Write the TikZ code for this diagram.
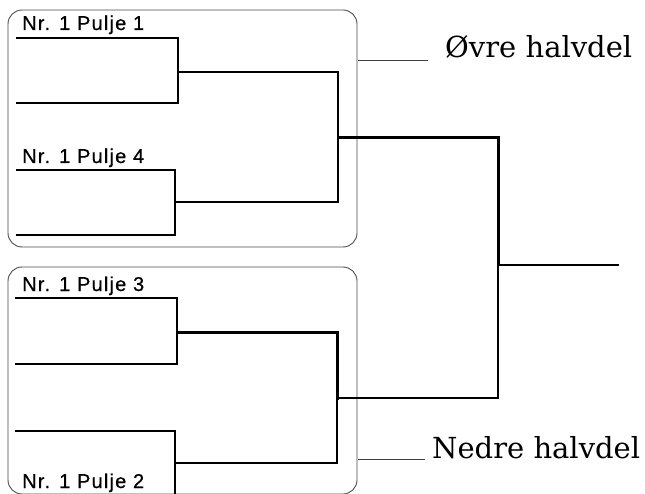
\documentclass[tikz,border=0pt]{standalone}
\usepackage{fontspec}
\newfontfamily\labfont{Liberation Sans}[LetterSpace=6,FakeBold=0.6]
\newfontfamily\halffont{DejaVu Serif}
\begin{document}
\begin{tikzpicture}[x=1pt,y=-1pt,
  bline/.style={line width=1.8pt, line cap=rect},
  tline/.style={line width=3pt, line cap=rect},
  frame/.style={draw=black!70, line width=0.9pt, rounded corners=14pt, inner sep=0pt},
  leader/.style={draw=black!75, line width=0.9pt},
  seed/.style={anchor=base west, inner sep=0pt, font=\labfont\fontsize{20}{22}\selectfont},
  half/.style={anchor=base west, inner sep=0pt, font=\halffont\fontsize{29}{31}\selectfont}]
\useasboundingbox (0,0) rectangle (645,494);
\fill[white] (0,0) rectangle (645,494);
% frames
\node[frame, minimum width=349pt, minimum height=237pt] (topbox) at (182.5,128.5) {};
\node[frame, minimum width=349pt, minimum height=227pt] (botbox) at (182.5,380.5) {};
% players
\coordinate (p1) at (17,38);
\coordinate (p2) at (17,103);
\coordinate (p3) at (17,170);
\coordinate (p4) at (17,235);
\coordinate (p5) at (16,298);
\coordinate (p6) at (16,364);
\coordinate (p7) at (16,431);
\coordinate (p8) at (16,497);
% quarter-final winners
\coordinate (q1) at (178,72);
\coordinate (q2) at (175,202);
\coordinate (q3) at (177,332);
\coordinate (q4) at (175,463);
% semi-final winners
\coordinate (h1) at (338,138);
\coordinate (h2) at (337,398);
% final
\coordinate (f) at (498,265);
\coordinate (w) at (618,265);
% bracket lines
\draw[bline] (p1) -| (q1);
\draw[bline] (p2) -| (q1);
\draw[bline] (p3) -| (q2);
\draw[bline] (p4) -| (q2);
\draw[bline] (p5) -| (q3);
\draw[bline] (p6) -| (q3);
\draw[bline] (p7) -| (q4);
\draw[bline] (p8) -| (q4);
\draw[bline] (q1) -| (h1);
\draw[bline] (q2) -| (h1);
\draw[tline] (q3) -| (h2);
\draw[bline] (q4) -| (h2);
\draw[tline] (h1) -| (f);
\draw[bline] (h2) -| (f);
\draw[bline] (f) -- (w);
% seed labels
\node[seed] (l1) at (22,30) {Nr. 1 Pulje 1};
\node[seed] (l4) at (22,163) {Nr. 1 Pulje 4};
\node[seed] (l3) at (22,291) {Nr. 1 Pulje 3};
\node[seed] (l2) at (22,488) {Nr. 1 Pulje 2};
% half labels
\node[half] (ovre) at (445,58) {Øvre halvdel};
\node[half] (nedre) at (432,458) {Nedre halvdel};
\coordinate (oa) at (358,60);
\coordinate (ob) at (428,60);
\coordinate (na) at (358,459);
\coordinate (nb) at (425,459);
\draw[leader] (oa) -- (ob);
\draw[leader] (na) -- (nb);
\end{tikzpicture}
\end{document}
